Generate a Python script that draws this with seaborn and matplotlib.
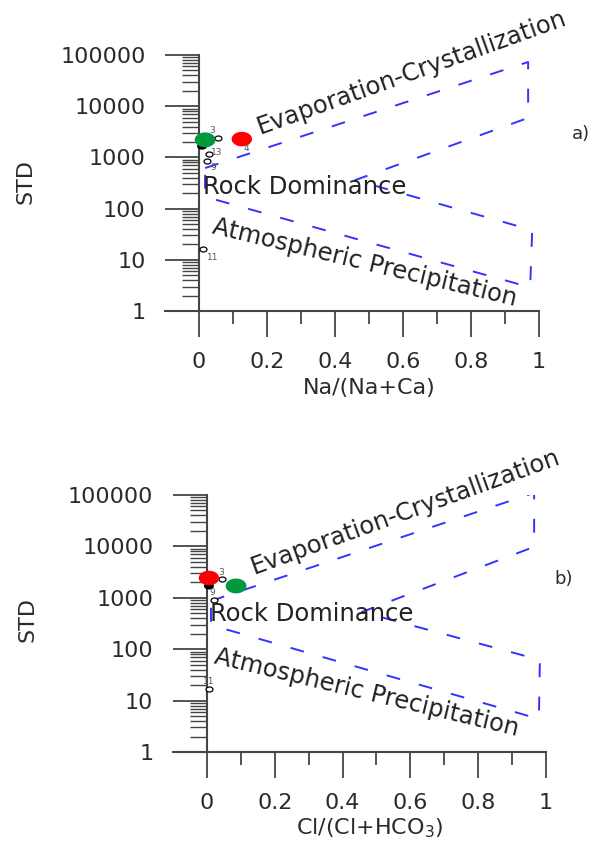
import numpy as np
import matplotlib
matplotlib.use("Agg")
import matplotlib.pyplot as plt
import seaborn as sns
from matplotlib.markers import MarkerStyle
from matplotlib.ticker import LogLocator, NullFormatter, FixedLocator, FuncFormatter

sns.set_style("ticks")
plt.rcParams['font.family'] = ['DejaVu Sans']
plt.rcParams['lines.scale_dashes'] = False

# ---------------- data ----------------
y_ticks = [1, 10, 100, 1000, 10000, 100000]
x_ticks = [0, 0.2, 0.4, 0.6, 0.8, 1]
x_tick_labels = ["0", "0.2", "0.4", "0.6", "0.8", "1"]
x_minor = [0.1, 0.3, 0.5, 0.7, 0.9]

# panel a : Na/(Na+Ca)
a_green_x = [0.018]
a_green_y = [2200]
a_red_x = [0.126]
a_red_y = [2280]
a_black_x = [0.009]
a_black_y = [1660]
a_open_x = [0.056, 0.029, 0.024, 0.012]
a_open_y = [2430, 1170, 850, 16]
a_open_lab = ["3", "13", "9", "11"]
a_red_lab = ["4"]
a_zone_x = [0.018, 0.968, 0.968, 0.459, 0.980, 0.974, 0.018, 0.018]
a_zone_y = [620, 73000, 5900, 360, 38, 2.9, 170, 620]

# panel b : Cl/(Cl+HCO3)
b_green_x = [0.086]
b_green_y = [1700]
b_red_x = [0.006]
b_red_y = [2430]
b_black_x = [0.006]
b_black_y = [1700]
b_open_x = [0.044, 0.021, 0.006]
b_open_y = [2330, 910, 17]
b_open_lab = ["3", "9", "11"]
b_zone_x = [0.012, 0.965, 0.965, 0.457, 0.982, 0.979, 0.012, 0.012]
b_zone_y = [870, 110000, 9800, 530, 62, 4.4, 295, 870]

# ---------------- style ----------------
theta = np.linspace(0, 2 * np.pi, 64)
ELL = MarkerStyle(list(zip(1.4 * np.cos(theta), np.sin(theta))))
TXT = '#2b2b2b'
AX = '#454545'
BLUE = '#3333ff'

fig = plt.figure(figsize=(5.92, 8.42), dpi=100)
axa = fig.add_axes([165 / 592, 1 - 311 / 842, 374 / 592, 256 / 842])
axb = fig.add_axes([173 / 592, 1 - 752 / 842, 373 / 592, 257 / 842])


def style_axes(ax):
    ax.set_yscale('log')
    ax.set_xlim(-0.1, 1.0)
    ax.set_ylim(1, 100000)
    ax.spines['top'].set_visible(False)
    ax.spines['right'].set_visible(False)
    ax.spines['left'].set_position(('data', 0))
    for s in ('left', 'bottom'):
        ax.spines[s].set_color(AX)
        ax.spines[s].set_linewidth(1.5)
    ax.yaxis.set_major_locator(FixedLocator(y_ticks))
    ax.yaxis.set_major_formatter(FuncFormatter(lambda v, p: f"{int(round(v))}"))
    ax.yaxis.set_minor_locator(LogLocator(base=10, subs=np.arange(2, 10), numticks=30))
    ax.yaxis.set_minor_formatter(NullFormatter())
    ax.set_xticks(x_ticks)
    ax.set_xticklabels(x_tick_labels)
    ax.set_xticks(x_minor, minor=True)
    ax.tick_params(axis='y', which='major', left=True, direction='out', length=24.5,
                   width=1.3, color=AX, pad=14, labelsize=16, labelcolor=TXT)
    ax.tick_params(axis='y', which='minor', left=True, direction='out', length=12,
                   width=1.0, color=AX)
    ax.tick_params(axis='x', which='major', bottom=True, direction='out', length=18.7,
                   width=1.3, color=AX, pad=11, labelsize=16, labelcolor=TXT)
    ax.tick_params(axis='x', which='minor', bottom=True, direction='out', length=9.4,
                   width=1.3, color=AX)
    ax.set_facecolor('none')


def draw_panel(ax, zx, zy, bx, by, gx, gy, rx, ry, ox, oy, olab, olab_off,
               rlab, rlab_off):
    ax.plot(zx, zy, color=BLUE, lw=1.4, dashes=(10, 14), zorder=2)
    sns.scatterplot(x=bx, y=by, ax=ax, marker=ELL, s=52, color='black',
                    edgecolor='none', linewidth=0, zorder=3, legend=False, clip_on=False)
    sns.scatterplot(x=ox, y=oy, ax=ax, marker=ELL, s=25, facecolor='white',
                    edgecolor='black', linewidth=0.9, zorder=4, legend=False, clip_on=False)
    sns.scatterplot(x=gx, y=gy, ax=ax, marker=ELL, s=225, color='#009a3e',
                    edgecolor='none', linewidth=0, zorder=5, legend=False, clip_on=False)
    sns.scatterplot(x=rx, y=ry, ax=ax, marker=ELL, s=215, color='#ff0000',
                    edgecolor='none', linewidth=0, zorder=5, legend=False, clip_on=False)
    for x, y, t, off in zip(ox, oy, olab, olab_off):
        ax.annotate(t, (x, y), xytext=off, textcoords='offset points', fontsize=6.5,
                    color='#555555', ha='center', va='center', zorder=6)
    for x, y, t, off in zip(rx, ry, rlab, rlab_off):
        ax.annotate(t, (x, y), xytext=off, textcoords='offset points', fontsize=6.5,
                    color='#555555', ha='center', va='center', zorder=6)


style_axes(axa)
style_axes(axb)

draw_panel(axa, a_zone_x, a_zone_y, a_black_x, a_black_y, a_green_x, a_green_y,
           a_red_x, a_red_y, a_open_x, a_open_y, a_open_lab,
           [(-4.3, 5), (6, 0.7), (4.5, -5), (7, -5.8)], a_red_lab, [(3.6, -6.5)])
draw_panel(axb, b_zone_x, b_zone_y, b_black_x, b_black_y, b_green_x, b_green_y,
           b_red_x, b_red_y, b_open_x, b_open_y, b_open_lab,
           [(-0.7, 4.6), (-1.4, 5), (0, 5)], [], [])

tk = dict(color='#222222', fontsize=17.5, ha='center', va='center',
          rotation_mode='anchor', clip_on=False, zorder=7)
axa.text(0.626, 46000, "Evaporation-Crystallization", rotation=19.7, **tk)
axa.text(0.312, 265, "Rock Dominance", rotation=0, **tk)
axa.text(0.488, 8.7, "Atmospheric Precipitation", rotation=-13.5, **tk)
axb.text(0.584, 46800, "Evaporation-Crystallization", rotation=19.9, **tk)
axb.text(0.31, 480, "Rock Dominance", rotation=0, **tk)
axb.text(0.472, 14, "Atmospheric Precipitation", rotation=-13.5, **tk)

axa.text(1.124, 2870, "a)", fontsize=13, color=TXT, ha='center', va='center', clip_on=False)
axb.text(1.053, 2330, "b)", fontsize=13, color=TXT, ha='center', va='center', clip_on=False)

axa.set_xlabel("Na/(Na+Ca)", fontsize=16, color=TXT)
axb.set_xlabel(r"Cl/(Cl+HCO$_3$)", fontsize=16, color=TXT)
axa.set_ylabel("STD", fontsize=16, color=TXT)
axb.set_ylabel("STD", fontsize=16, color=TXT)
for ax, xl, yl in ((axa, (0.545, -0.30), (-0.374, 0.504)),
                   (axb, (0.528, -0.296), (-0.391, 0.514))):
    ax.xaxis.label.set_va('center')
    ax.yaxis.label.set_va('center')
    ax.xaxis.set_label_coords(*xl)
    ax.yaxis.set_label_coords(*yl)

fig.savefig("out.png", dpi=100, facecolor='white')
